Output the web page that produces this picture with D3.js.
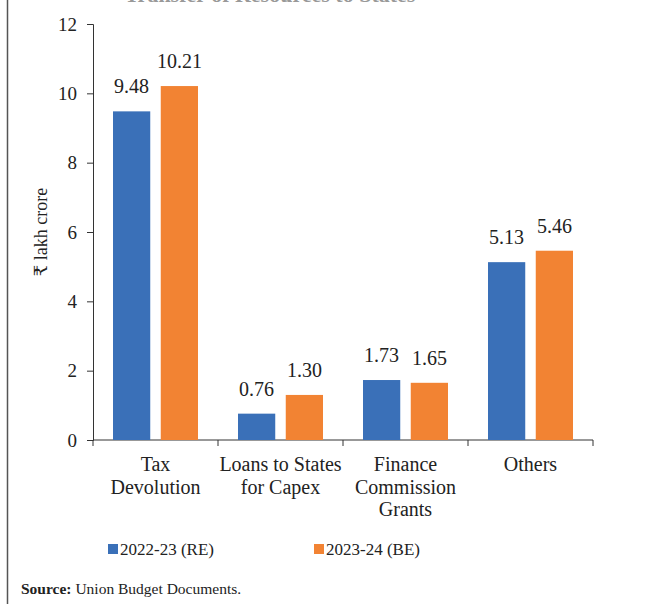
<!DOCTYPE html>
<html>
<head>
<meta charset="utf-8">
<script src="https://cdn.jsdelivr.net/npm/d3@7"></script>
<style>
  body { margin: 0; background: #fff; }
  svg { display: block; }
  text { font-family: "Liberation Serif", "DejaVu Serif", serif; fill: #222; }
</style>
</head>
<body>
<div id="chart"></div>
<script>
// data
var categories = [["Tax", "Devolution"], ["Loans to States", "for Capex"], ["Finance", "Commission", "Grants"], ["Others"]];
var series = ["2022-23 (RE)", "2023-24 (BE)"];
var re2223 = [9.48, 0.76, 1.73, 5.13];
var be2324 = [10.21, 1.30, 1.65, 5.46];
var yTicks = [0, 2, 4, 6, 8, 10, 12];
var colors = ["#3a70b8", "#f28333"];

var W = 648, H = 604;
var svg = d3.select("#chart").append("svg")
    .attr("width", W).attr("height", H);

// left border of the page box
svg.append("line")
    .attr("x1", 7.5).attr("x2", 7.5).attr("y1", 0).attr("y2", H)
    .attr("stroke", "#555").attr("stroke-width", 1.5);

// cut-off title at the very top (only its lower edge shows)
svg.append("text")
    .attr("x", 270).attr("y", 2)
    .attr("text-anchor", "middle")
    .style("font-size", "22px").style("font-weight", "bold")
    .style("fill", "#999")
    .text("Transfer of Resources to States");

var margin = { left: 93, top: 24 };
var x = d3.scaleBand()
    .domain(d3.range(categories.length))
    .range([93, 593]);
var x1 = d3.scaleBand()
    .domain([0, 1])
    .range([20, 125 - 20])
    .paddingInner(0.22);
var y = d3.scaleLinear()
    .domain([0, 12])
    .range([440, 24]);

// y axis
var yAxis = svg.append("g")
    .attr("transform", "translate(" + margin.left + ",0)")
    .call(d3.axisLeft(y).tickValues(yTicks).tickSize(6).tickPadding(10));
yAxis.selectAll("text").style("font-size", "19px").style("font-family", "Liberation Serif");
yAxis.selectAll("line,path").attr("stroke", "#333");

// x axis with category dividers
svg.append("line")
    .attr("x1", 93).attr("x2", 593).attr("y1", 440).attr("y2", 440)
    .attr("stroke", "#333");
var dividers = d3.range(categories.length + 1);
svg.selectAll(".div").data(dividers).enter().append("line")
    .attr("x1", function (d) { return d === categories.length ? x.range()[1] : x(d); })
    .attr("x2", function (d) { return d === categories.length ? x.range()[1] : x(d); })
    .attr("y1", 440).attr("y2", 446)
    .attr("stroke", "#333");

// bars
var groups = svg.selectAll(".grp").data(categories).enter().append("g")
    .attr("transform", function (d, i) { return "translate(" + x(i) + ",0)"; });

[re2223, be2324].forEach(function (vals, s) {
    groups.append("rect")
        .attr("x", x1(s))
        .attr("width", x1.bandwidth())
        .attr("y", function (d, i) { return y(vals[i]); })
        .attr("height", function (d, i) { return y(0) - y(vals[i]); })
        .attr("fill", colors[s]);
    groups.append("text")
        .attr("x", x1(s) + x1.bandwidth() / 2)
        .attr("y", function (d, i) { return y(vals[i]) - 18; })
        .attr("text-anchor", "middle")
        .style("font-size", "20px")
        .text(function (d, i) { return vals[i].toFixed(2); });
});

// category labels
groups.each(function (lines) {
    var t = d3.select(this).append("text")
        .attr("text-anchor", "middle")
        .style("font-size", "20px");
    lines.forEach(function (ln, k) {
        t.append("tspan")
            .attr("x", x.bandwidth() / 2)
            .attr("y", 471 + k * 22.5)
            .text(ln);
    });
});

// y label
svg.append("text")
    .attr("transform", "translate(47,232) rotate(-90)")
    .attr("text-anchor", "middle")
    .style("font-size", "18px")
    .text("₹ lakh crore");

// legend
var legX = [108, 314];
series.forEach(function (s, i) {
    svg.append("rect")
        .attr("x", legX[i]).attr("y", 544)
        .attr("width", 10).attr("height", 10)
        .attr("fill", colors[i]);
    svg.append("text")
        .attr("x", legX[i] + 12).attr("y", 555)
        .style("font-size", "17px")
        .text(s);
});

// source
var src = svg.append("text")
    .attr("x", 21).attr("y", 594)
    .style("font-size", "15.5px");
src.append("tspan").style("font-weight", "bold").text("Source:");
src.append("tspan").text(" Union Budget Documents.");
</script>
</body>
</html>
